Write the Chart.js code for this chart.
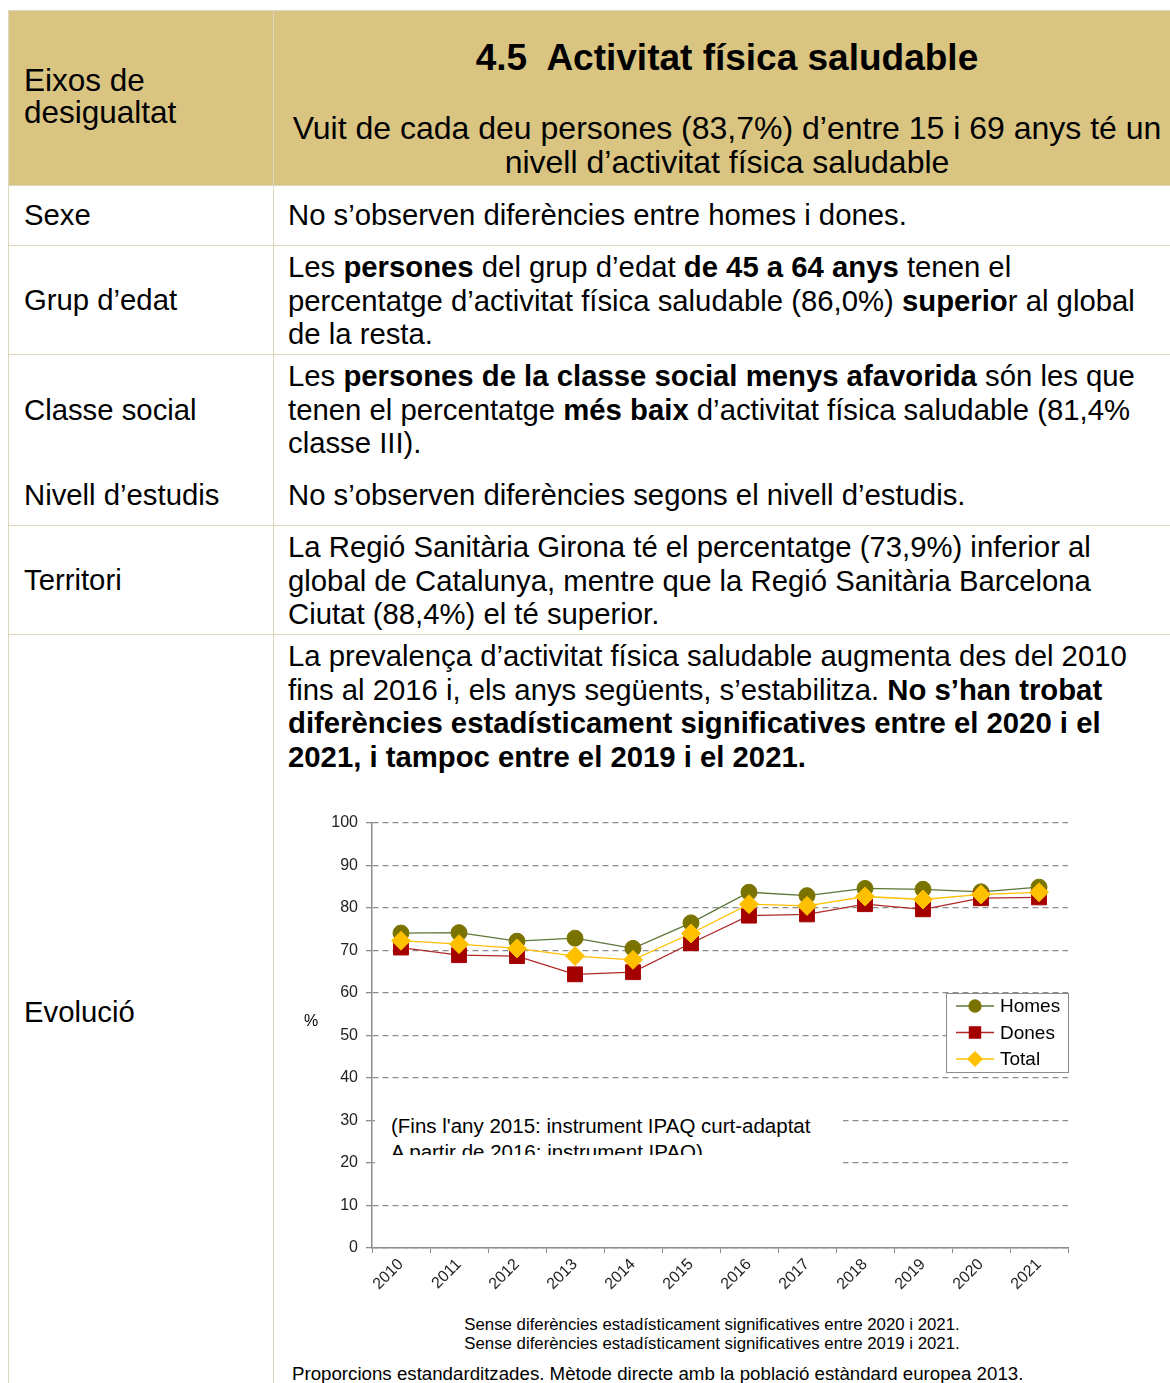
<!DOCTYPE html>
<html>
<head>
<meta charset="utf-8">
<script src="https://cdn.jsdelivr.net/npm/chart.js@4.4.1/dist/chart.umd.min.js"></script>
<style>
  html, body { margin: 0; padding: 0; background: #fff; }
  body { width: 1170px; height: 1383px; position: relative; overflow: hidden;
         font-family: "Liberation Sans", Arial, sans-serif; color: #000; }
  .abs { position: absolute; }
  .hdr { background: #D9C482; }
  .hl { position: absolute; height: 1px; background: #DDD6BE; }
  .vl { position: absolute; width: 1px; background: #DDD6BE; }
  .txt { position: absolute; font-size: 29.3px; line-height: 33.5px; white-space: nowrap; }
  b { font-weight: bold; }
</style>
</head>
<body>
<!-- table background + lines -->
<div class="abs hdr" style="left:8px;top:10px;width:1170px;height:175px"></div>
<div class="hl" style="left:8px;top:10px;width:1170px"></div>
<div class="hl" style="left:8px;top:185px;width:1170px"></div>
<div class="hl" style="left:8px;top:245px;width:1170px"></div>
<div class="hl" style="left:8px;top:354px;width:1170px"></div>
<div class="hl" style="left:8px;top:525px;width:1170px"></div>
<div class="hl" style="left:8px;top:634px;width:1170px"></div>
<div class="vl" style="left:8px;top:10px;height:1380px"></div>
<div class="vl" style="left:273px;top:10px;height:1380px"></div>

<!-- header -->
<div class="txt" style="left:24px;top:64px;font-size:31.5px;line-height:32px">Eixos de<br>desigualtat</div>
<div class="abs" style="left:274px;top:37px;width:906px;text-align:center;font-size:37px;font-weight:bold;line-height:42px;white-space:nowrap">4.5&nbsp; Activitat física saludable</div>
<div class="abs" style="left:274px;top:111px;width:906px;text-align:center;font-size:32px;line-height:34px;white-space:nowrap">Vuit de cada deu persones (83,7%) d’entre 15 i 69 anys té un<br>nivell d’activitat física saludable</div>

<!-- rows -->
<div class="txt" style="left:24px;top:198px">Sexe</div>
<div class="txt" style="left:288px;top:198px">No s’observen diferències entre homes i dones.</div>

<div class="txt" style="left:24px;top:283px">Grup d’edat</div>
<div class="txt" style="left:288px;top:250px">Les <b>persones</b> del grup d’edat <b>de 45 a 64 anys</b> tenen el<br>percentatge d’activitat física saludable (86,0%) <b>superio</b>r al global<br>de la resta.</div>

<div class="txt" style="left:24px;top:393px">Classe social</div>
<div class="txt" style="left:288px;top:359px">Les <b>persones de la classe social menys afavorida</b> són les que<br>tenen el percentatge <b>més baix</b> d’activitat física saludable (81,4%<br>classe III).</div>

<div class="txt" style="left:24px;top:478px">Nivell d’estudis</div>
<div class="txt" style="left:288px;top:478px">No s’observen diferències segons el nivell d’estudis.</div>

<div class="txt" style="left:24px;top:563px">Territori</div>
<div class="txt" style="left:288px;top:530px">La Regió Sanitària Girona té el percentatge (73,9%) inferior al<br>global de Catalunya, mentre que la Regió Sanitària Barcelona<br>Ciutat (88,4%) el té superior.</div>

<div class="txt" style="left:24px;top:995px">Evolució</div>
<div class="txt" style="left:288px;top:639px">La prevalença d’activitat física saludable augmenta des del 2010<br>fins al 2016 i, els anys següents, s’estabilitza. <b>No s’han trobat</b><br><b>diferències estadísticament significatives entre el 2020 i el</b><br><b>2021, i tampoc entre el 2019 i el 2021.</b></div>

<!-- chart -->
<div class="abs" style="left:290px;top:800px;width:790px;height:500px">
  <canvas id="grafic" width="790" height="500"></canvas>
</div>
<div class="abs" style="left:304px;top:1012px;font-size:16px">%</div>
<div class="abs" style="left:375px;top:1100px;width:468px;height:68px;background:#fff"></div>
<div class="abs" style="left:391px;top:1113px;width:452px;height:42px;overflow:hidden;font-size:20.5px;line-height:26px;white-space:nowrap">(Fins l'any 2015: instrument IPAQ curt-adaptat<br>A partir de 2016: instrument IPAQ)</div>

<div class="abs" style="left:300px;top:1315px;width:824px;text-align:center;font-size:16.8px;line-height:19px">Sense diferències estadísticament significatives entre 2020 i 2021.<br>Sense diferències estadísticament significatives entre 2019 i 2021.</div>
<div class="abs" style="left:292px;top:1363px;font-size:18.7px;white-space:nowrap">Proporcions estandarditzades. Mètode directe amb la població estàndard europea 2013.</div>

<script>
const anys = ['2010', '2011', '2012', '2013', '2014', '2015', '2016', '2017', '2018', '2019', '2020', '2021'];
const homes = [74.1, 74.2, 72.2, 72.9, 70.5, 76.5, 83.7, 82.9, 84.6, 84.4, 83.8, 84.9];
const dones = [70.7, 68.9, 68.7, 64.4, 64.9, 71.7, 78.2, 78.5, 80.9, 79.7, 82.3, 82.5];
const total = [72.3, 71.5, 70.5, 68.7, 67.8, 74.0, 80.9, 80.5, 82.7, 82.0, 83.2, 83.7];
const yTicks = [0, 10, 20, 30, 40, 50, 60, 70, 80, 90, 100];

const series = [
  { label: 'Homes', data: homes, line: '#5E7636', fill: '#7A7300', style: 'circle', r: 8, order: 3 },
  { label: 'Dones', data: dones, line: '#B02A2A', fill: '#A50000', style: 'rect', r: 10.5, order: 2 },
  { label: 'Total', data: total, line: '#FFC000', fill: '#FFC000', style: 'rectRot', r: 9.5, order: 1 }
];

// custom legend box inside the plot area
const llegenda = {
  id: 'llegenda',
  afterDraw(chart) {
    const ctx = chart.ctx;
    const a = chart.chartArea;
    const x0 = a.right - 122, y0 = a.top + 170;
    ctx.save();
    ctx.fillStyle = '#fff';
    ctx.fillRect(x0, y0, 123, 80);
    ctx.strokeStyle = '#8c8c8c';
    ctx.lineWidth = 1;
    ctx.strokeRect(x0 + 0.5, y0 + 0.5, 122, 79);
    series.forEach((s, i) => {
      const y = y0 + 13 + i * 26.5;
      ctx.strokeStyle = s.line;
      ctx.lineWidth = 1.3;
      ctx.beginPath();
      ctx.moveTo(x0 + 10, y);
      ctx.lineTo(x0 + 48, y);
      ctx.stroke();
      ctx.fillStyle = s.fill;
      ctx.strokeStyle = s.fill;
      Chart.helpers.drawPoint(ctx, { pointStyle: s.style, radius: s.r * 0.75, borderWidth: 1, rotation: 0 }, x0 + 29, y);
      ctx.fillStyle = '#000';
      ctx.font = '19px "Liberation Sans", Arial, sans-serif';
      ctx.textBaseline = 'middle';
      ctx.fillText(s.label, x0 + 54, y + 1);
    });
    ctx.restore();
  }
};

new Chart(document.getElementById('grafic'), {
  type: 'line',
  data: {
    labels: anys,
    datasets: series.map(s => ({
      label: s.label,
      data: s.data,
      order: s.order,
      borderColor: s.line,
      borderWidth: 1.3,
      backgroundColor: s.fill,
      pointStyle: s.style,
      pointRadius: s.r,
      pointBackgroundColor: s.fill,
      pointBorderColor: s.fill,
      pointBorderWidth: 1,
      tension: 0
    }))
  },
  options: {
    responsive: false,
    animation: false,
    layout: { padding: { left: 0, top: 23, right: 12, bottom: 0 } },
    plugins: { legend: { display: false }, tooltip: { enabled: false } },
    scales: {
      x: {
        type: 'category',
        offset: true,
        afterFit: s => { s.height = 52; },
        grid: { offset: true, drawOnChartArea: false, color: '#8c8c8c', tickLength: 5 },
        border: { color: '#8c8c8c', width: 1.5 },
        ticks: { color: '#222', font: { size: 16, family: '"Liberation Sans", Arial' }, minRotation: 45, maxRotation: 45, padding: 2 }
      },
      y: {
        min: 0,
        max: 100,
        afterFit: s => { s.width = 82; },
        afterBuildTicks: s => { s.ticks = yTicks.map(v => ({ value: v })); },
        grid: { color: '#8c8c8c', lineWidth: 1.3, tickLength: 6 },
        border: { color: '#8c8c8c', width: 1.5, dash: [6, 4] },
        ticks: { color: '#222', font: { size: 16, family: '"Liberation Sans", Arial' }, padding: 8 }
      }
    }
  },
  plugins: [llegenda]
});
</script>
</body>
</html>
